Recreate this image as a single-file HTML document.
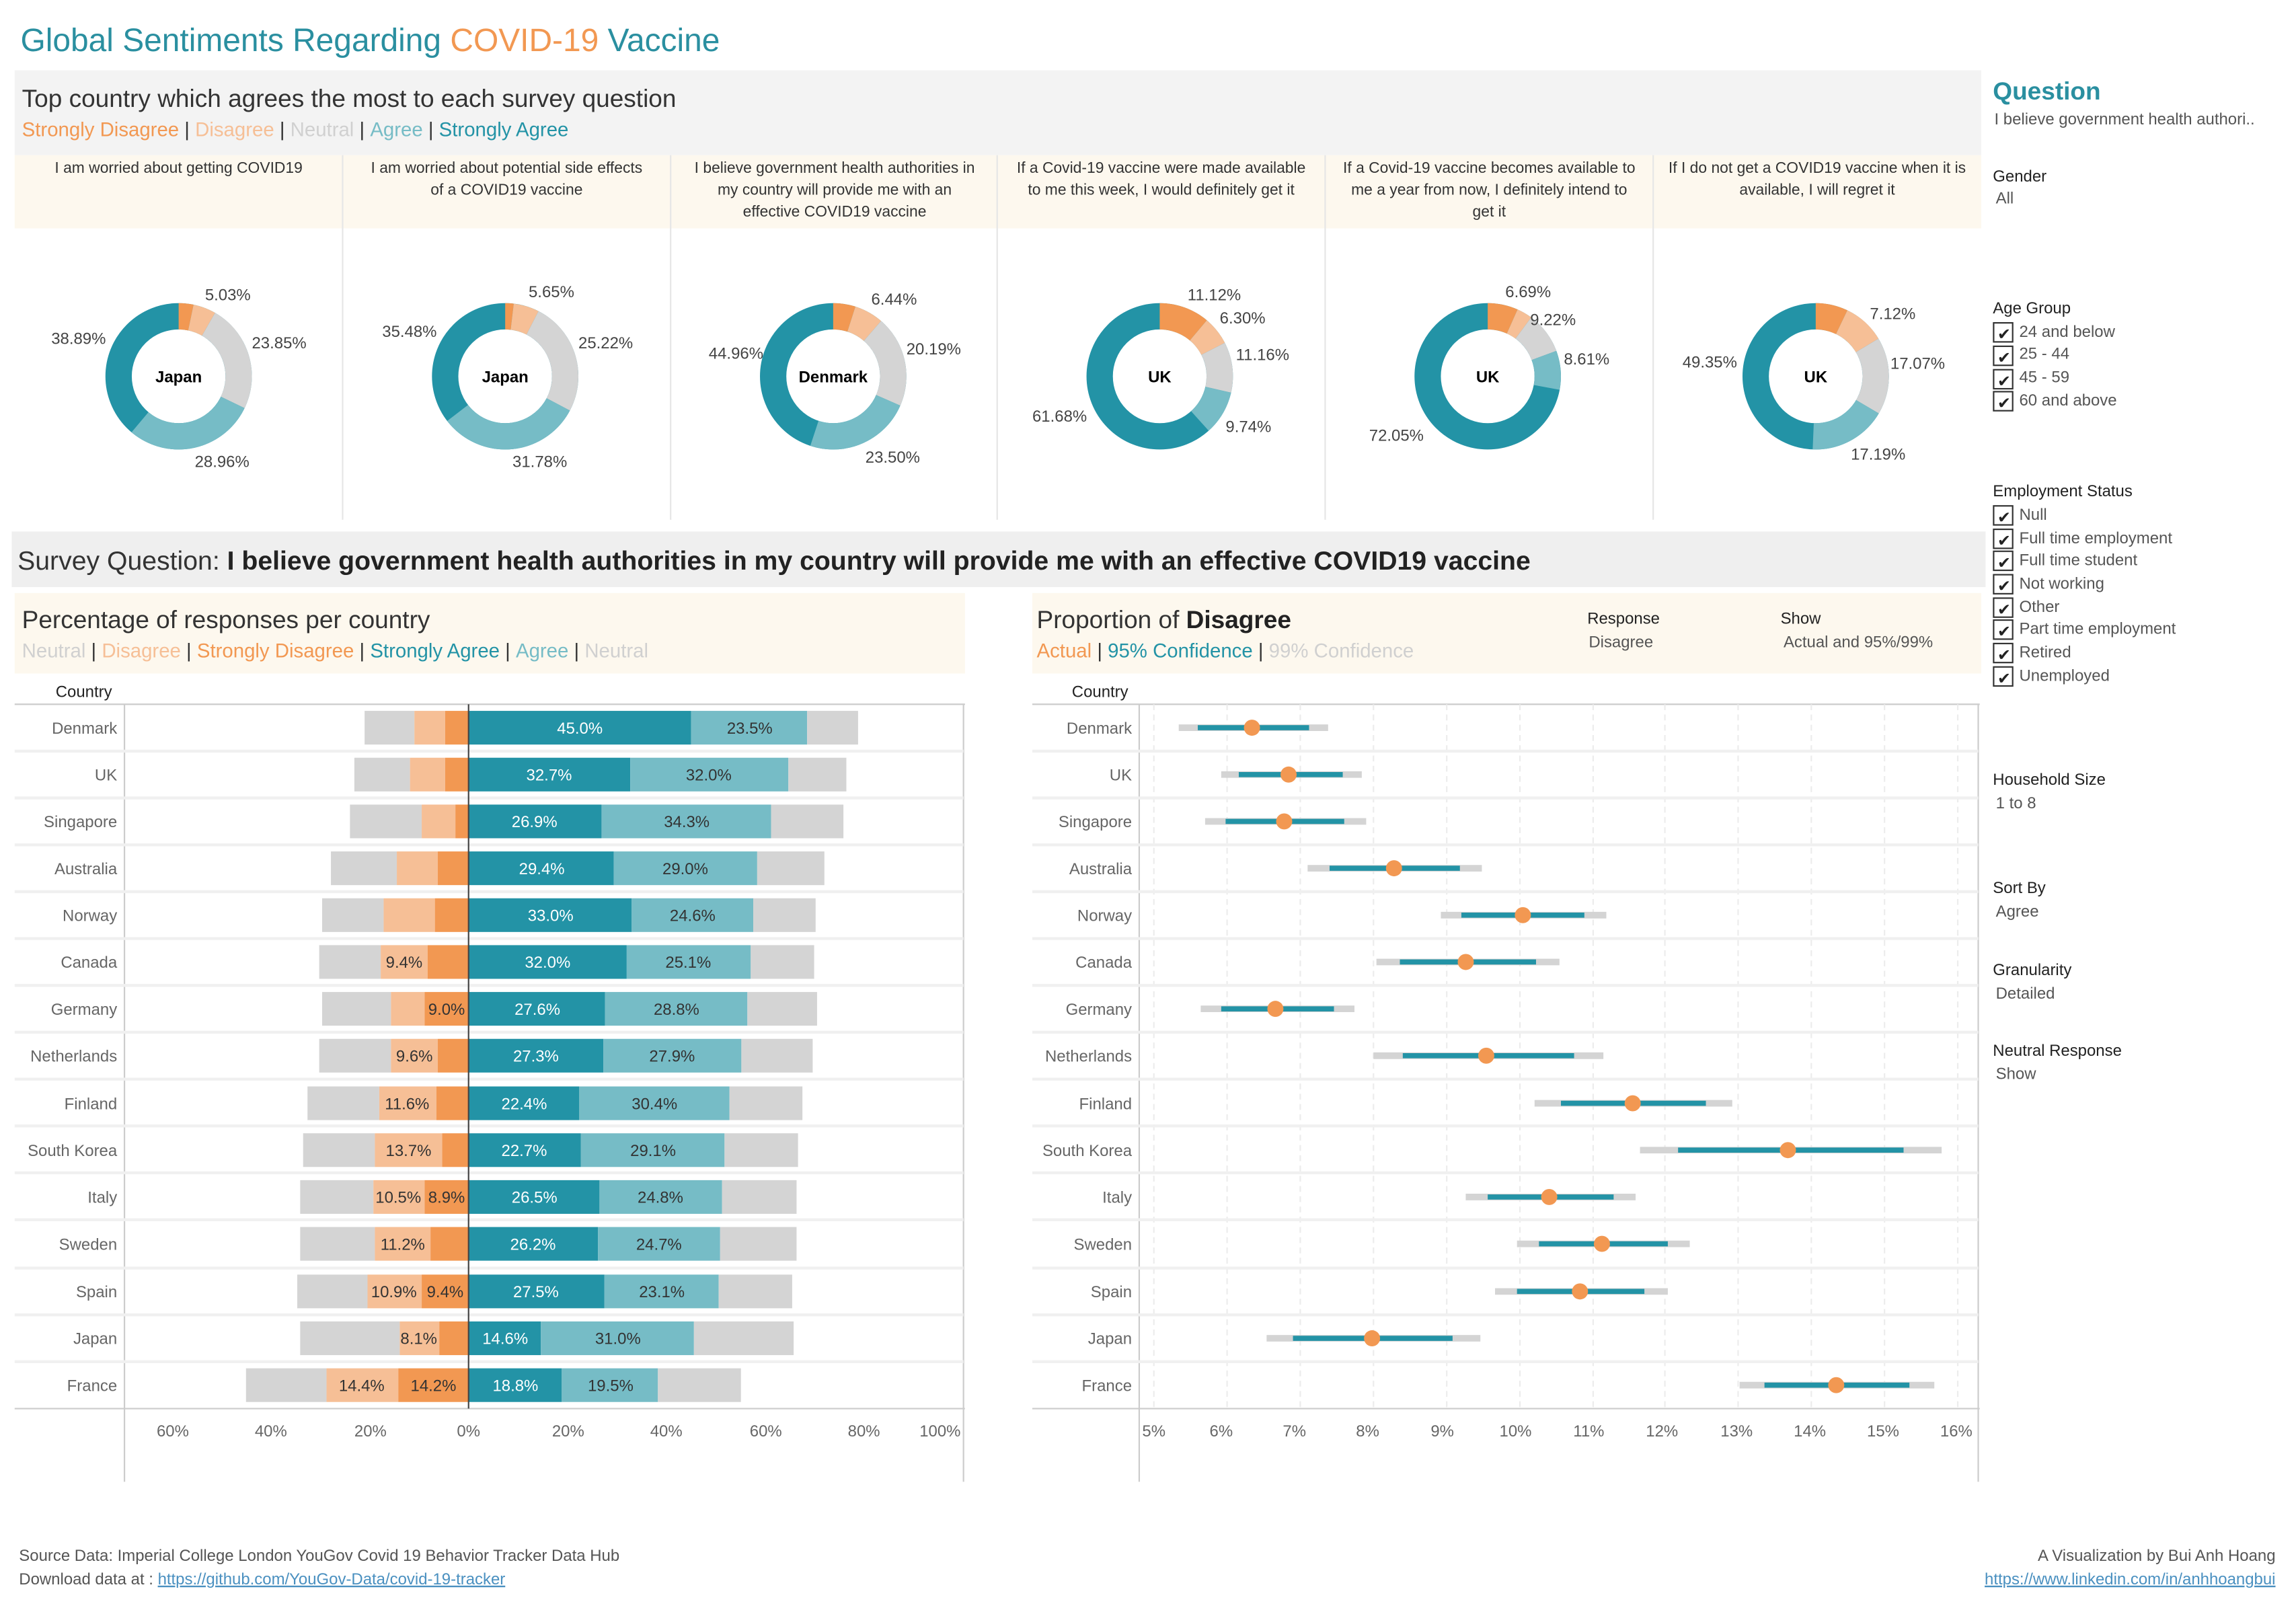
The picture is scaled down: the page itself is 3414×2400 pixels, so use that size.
<!DOCTYPE html>
<html><head><meta charset="utf-8"><style>
html,body{margin:0;padding:0;background:#fff;}
svg{display:block;}
text{font-family:"Liberation Sans",sans-serif;}
</style></head><body>
<svg width="3414" height="2400" viewBox="0 0 1568 1102.3" preserveAspectRatio="none" xmlns="http://www.w3.org/2000/svg">
<rect width="1568" height="1103" fill="#fff"/>
<!-- Title -->
<text x="14" y="35" font-size="22" fill="#2a8fa0">Global Sentiments Regarding <tspan fill="#f29852">COVID-19</tspan> Vaccine</text>

<!-- Top panel -->
<rect x="10" y="48" width="1343" height="58" fill="#f3f3f3"/>
<text x="15" y="73" font-size="17" fill="#333">Top country which agrees the most to each survey question</text>
<text x="15" y="93" font-size="13.5"><tspan fill="#f29852">Strongly Disagree</tspan><tspan fill="#333"> | </tspan><tspan fill="#f6bf96">Disagree</tspan><tspan fill="#333"> | </tspan><tspan fill="#d0d0d0">Neutral</tspan><tspan fill="#333"> | </tspan><tspan fill="#76bcc6">Agree</tspan><tspan fill="#333"> | </tspan><tspan fill="#2393a6">Strongly Agree</tspan></text>
<rect x="10" y="106" width="1343" height="50" fill="#fdf8ee"/>
<g stroke="#e6e6e6" stroke-width="1">
<line x1="234" y1="106" x2="234" y2="355"/><line x1="458" y1="106" x2="458" y2="355"/><line x1="681" y1="106" x2="681" y2="355"/><line x1="905" y1="106" x2="905" y2="355"/><line x1="1129" y1="106" x2="1129" y2="355"/>
</g>
<g font-size="10.5" fill="#333" text-anchor="middle">
<text x="122" y="118">I am worried about getting COVID19</text>
<text x="346" y="118">I am worried about potential side effects</text><text x="346" y="133">of a COVID19 vaccine</text>
<text x="570" y="118">I believe government health authorities in</text><text x="570" y="133">my country will provide me with an</text><text x="570" y="148">effective COVID19 vaccine</text>
<text x="793" y="118">If a Covid-19 vaccine were made available</text><text x="793" y="133">to me this week, I would definitely get it</text>
<text x="1017" y="118">If a Covid-19 vaccine becomes available to</text><text x="1017" y="133">me a year from now, I definitely intend to</text><text x="1017" y="148">get it</text>
<text x="1241" y="118">If I do not get a COVID19 vaccine when it is</text><text x="1241" y="133">available, I will regret it</text>
</g>

<g fill="none" stroke-width="18">
<g transform="translate(122,257) rotate(-90)">
<circle r="41" stroke="#2393a6"/>
<circle r="41" stroke="#f29852" stroke-dasharray="8.42 300"/>
<circle r="41" stroke="#f6bf96" stroke-dasharray="12.96 300" stroke-dashoffset="-8.42"/>
<circle r="41" stroke="#d4d4d4" stroke-dasharray="61.44 300" stroke-dashoffset="-21.38"/>
<circle r="41" stroke="#76bcc6" stroke-dasharray="74.6 300" stroke-dashoffset="-82.82"/>
</g>
<g transform="translate(345,257) rotate(-90)">
<circle r="41" stroke="#2393a6"/>
<circle r="41" stroke="#f29852" stroke-dasharray="4.82 300"/>
<circle r="41" stroke="#f6bf96" stroke-dasharray="14.55 300" stroke-dashoffset="-4.82"/>
<circle r="41" stroke="#d4d4d4" stroke-dasharray="64.97 300" stroke-dashoffset="-19.37"/>
<circle r="41" stroke="#76bcc6" stroke-dasharray="81.87 300" stroke-dashoffset="-84.34"/>
</g>
<g transform="translate(569,257) rotate(-90)">
<circle r="41" stroke="#2393a6"/>
<circle r="41" stroke="#f29852" stroke-dasharray="12.65 300"/>
<circle r="41" stroke="#f6bf96" stroke-dasharray="16.59 300" stroke-dashoffset="-12.65"/>
<circle r="41" stroke="#d4d4d4" stroke-dasharray="52.01 300" stroke-dashoffset="-29.24"/>
<circle r="41" stroke="#76bcc6" stroke-dasharray="60.54 300" stroke-dashoffset="-81.25"/>
</g>
<g transform="translate(792,257) rotate(-90)">
<circle r="41" stroke="#2393a6"/>
<circle r="41" stroke="#f29852" stroke-dasharray="28.65 300"/>
<circle r="41" stroke="#f6bf96" stroke-dasharray="16.23 300" stroke-dashoffset="-28.65"/>
<circle r="41" stroke="#d4d4d4" stroke-dasharray="28.75 300" stroke-dashoffset="-44.88"/>
<circle r="41" stroke="#76bcc6" stroke-dasharray="25.09 300" stroke-dashoffset="-73.63"/>
</g>
<g transform="translate(1016,257) rotate(-90)">
<circle r="41" stroke="#2393a6"/>
<circle r="41" stroke="#f29852" stroke-dasharray="17.23 300"/>
<circle r="41" stroke="#f6bf96" stroke-dasharray="8.84 300" stroke-dashoffset="-17.23"/>
<circle r="41" stroke="#d4d4d4" stroke-dasharray="23.75 300" stroke-dashoffset="-26.07"/>
<circle r="41" stroke="#76bcc6" stroke-dasharray="22.18 300" stroke-dashoffset="-49.82"/>
</g>
<g transform="translate(1240,257) rotate(-90)">
<circle r="41" stroke="#2393a6"/>
<circle r="41" stroke="#f29852" stroke-dasharray="18.34 300"/>
<circle r="41" stroke="#f6bf96" stroke-dasharray="23.88 300" stroke-dashoffset="-18.34"/>
<circle r="41" stroke="#d4d4d4" stroke-dasharray="43.97 300" stroke-dashoffset="-42.22"/>
<circle r="41" stroke="#76bcc6" stroke-dasharray="44.28 300" stroke-dashoffset="-86.19"/>
</g>
</g>
<g font-size="11" fill="#000" text-anchor="middle" font-weight="bold">
<text x="122" y="261">Japan</text><text x="345" y="261">Japan</text><text x="569" y="261">Denmark</text><text x="792" y="261">UK</text><text x="1016" y="261">UK</text><text x="1240" y="261">UK</text>
</g>
<g font-size="11" fill="#444">
<text x="140" y="205">5.03%</text><text x="172" y="238">23.85%</text><text x="133" y="319">28.96%</text><text x="35" y="235">38.89%</text>
<text x="361" y="203">5.65%</text><text x="395" y="238">25.22%</text><text x="350" y="319">31.78%</text><text x="261" y="230">35.48%</text>
<text x="595" y="208">6.44%</text><text x="619" y="242">20.19%</text><text x="591" y="316">23.50%</text><text x="484" y="245">44.96%</text>
<text x="811" y="205">11.12%</text><text x="833" y="221">6.30%</text><text x="844" y="246">11.16%</text><text x="837" y="295">9.74%</text><text x="705" y="288">61.68%</text>
<text x="1028" y="203">6.69%</text><text x="1045" y="222">9.22%</text><text x="1068" y="249">8.61%</text><text x="935" y="301">72.05%</text>
<text x="1277" y="218">7.12%</text><text x="1291" y="252">17.07%</text><text x="1264" y="314">17.19%</text><text x="1149" y="251">49.35%</text>
</g>

<rect x="8" y="363" width="1348" height="38" fill="#efefef"/>
<text x="12" y="389" font-size="18" fill="#333">Survey Question: <tspan font-weight="bold" fill="#222">I believe government health authorities in my country will provide me with an effective COVID19 vaccine</tspan></text>

<rect x="10" y="405" width="649" height="55" fill="#fdf8ee"/>
<text x="15" y="429" font-size="17" fill="#333">Percentage of responses per country</text>
<text x="15" y="449" font-size="13.5"><tspan fill="#d0d0d0">Neutral</tspan><tspan fill="#333"> | </tspan><tspan fill="#f6bf96">Disagree</tspan><tspan fill="#333"> | </tspan><tspan fill="#f29852">Strongly Disagree</tspan><tspan fill="#333"> | </tspan><tspan fill="#2393a6">Strongly Agree</tspan><tspan fill="#333"> | </tspan><tspan fill="#76bcc6">Agree</tspan><tspan fill="#333"> | </tspan><tspan fill="#d0d0d0">Neutral</tspan></text>
<text x="38" y="476" font-size="11" fill="#222">Country</text>
<line x1="10" y1="481" x2="659" y2="481" stroke="#ccc"/>
<line x1="85" y1="481" x2="85" y2="1012" stroke="#ccc"/>
<line x1="658" y1="481" x2="658" y2="1012" stroke="#ccc"/>
<line x1="10" y1="962" x2="659" y2="962" stroke="#ccc"/>
<g stroke="#f0f0f0" stroke-width="2">
<line x1="10" y1="513" x2="658" y2="513"/><line x1="10" y1="545" x2="658" y2="545"/><line x1="10" y1="577" x2="658" y2="577"/><line x1="10" y1="609" x2="658" y2="609"/><line x1="10" y1="641" x2="658" y2="641"/><line x1="10" y1="673" x2="658" y2="673"/><line x1="10" y1="705" x2="658" y2="705"/><line x1="10" y1="737" x2="658" y2="737"/><line x1="10" y1="769" x2="658" y2="769"/><line x1="10" y1="801" x2="658" y2="801"/><line x1="10" y1="833" x2="658" y2="833"/><line x1="10" y1="866" x2="658" y2="866"/><line x1="10" y1="898" x2="658" y2="898"/><line x1="10" y1="930" x2="658" y2="930"/>
</g>

<g>
<g transform="translate(0,485.5)"><rect x="249" width="34" height="23" fill="#d4d4d4"/><rect x="283" width="21" height="23" fill="#f6bf96"/><rect x="304" width="16" height="23" fill="#f29852"/><rect x="320" width="151.9" height="23" fill="#2393a6"/><rect x="471.9" width="79.3" height="23" fill="#76bcc6"/><rect x="551.2" width="34.8" height="23" fill="#d4d4d4"/></g>
<g transform="translate(0,517.5)"><rect x="242" width="38" height="23" fill="#d4d4d4"/><rect x="280" width="24" height="23" fill="#f6bf96"/><rect x="304" width="16" height="23" fill="#f29852"/><rect x="320" width="110.4" height="23" fill="#2393a6"/><rect x="430.4" width="108" height="23" fill="#76bcc6"/><rect x="538.4" width="39.6" height="23" fill="#d4d4d4"/></g>
<g transform="translate(0,549.5)"><rect x="239" width="49" height="23" fill="#d4d4d4"/><rect x="288" width="23" height="23" fill="#f6bf96"/><rect x="311" width="9" height="23" fill="#f29852"/><rect x="320" width="90.8" height="23" fill="#2393a6"/><rect x="410.8" width="115.8" height="23" fill="#76bcc6"/><rect x="526.6" width="49.4" height="23" fill="#d4d4d4"/></g>
<g transform="translate(0,581.5)"><rect x="226" width="45" height="23" fill="#d4d4d4"/><rect x="271" width="28" height="23" fill="#f6bf96"/><rect x="299" width="21" height="23" fill="#f29852"/><rect x="320" width="99.2" height="23" fill="#2393a6"/><rect x="419.2" width="97.9" height="23" fill="#76bcc6"/><rect x="517.1" width="45.9" height="23" fill="#d4d4d4"/></g>
<g transform="translate(0,613.5)"><rect x="220" width="42" height="23" fill="#d4d4d4"/><rect x="262" width="35" height="23" fill="#f6bf96"/><rect x="297" width="23" height="23" fill="#f29852"/><rect x="320" width="111.4" height="23" fill="#2393a6"/><rect x="431.4" width="83" height="23" fill="#76bcc6"/><rect x="514.4" width="42.6" height="23" fill="#d4d4d4"/></g>
<g transform="translate(0,645.5)"><rect x="218" width="42" height="23" fill="#d4d4d4"/><rect x="260" width="32" height="23" fill="#f6bf96"/><rect x="292" width="28" height="23" fill="#f29852"/><rect x="320" width="108" height="23" fill="#2393a6"/><rect x="428" width="84.7" height="23" fill="#76bcc6"/><rect x="512.7" width="43.3" height="23" fill="#d4d4d4"/></g>
<g transform="translate(0,677.5)"><rect x="220" width="47" height="23" fill="#d4d4d4"/><rect x="267" width="23" height="23" fill="#f6bf96"/><rect x="290" width="30" height="23" fill="#f29852"/><rect x="320" width="93.2" height="23" fill="#2393a6"/><rect x="413.2" width="97.2" height="23" fill="#76bcc6"/><rect x="510.4" width="47.6" height="23" fill="#d4d4d4"/></g>
<g transform="translate(0,709.5)"><rect x="218" width="49" height="23" fill="#d4d4d4"/><rect x="267" width="32" height="23" fill="#f6bf96"/><rect x="299" width="21" height="23" fill="#f29852"/><rect x="320" width="92.1" height="23" fill="#2393a6"/><rect x="412.1" width="94.2" height="23" fill="#76bcc6"/><rect x="506.3" width="48.7" height="23" fill="#d4d4d4"/></g>
<g transform="translate(0,742)"><rect x="210" width="49" height="23" fill="#d4d4d4"/><rect x="259" width="39" height="23" fill="#f6bf96"/><rect x="298" width="22" height="23" fill="#f29852"/><rect x="320" width="75.6" height="23" fill="#2393a6"/><rect x="395.6" width="102.6" height="23" fill="#76bcc6"/><rect x="498.2" width="49.8" height="23" fill="#d4d4d4"/></g>
<g transform="translate(0,774)"><rect x="207" width="49" height="23" fill="#d4d4d4"/><rect x="256" width="46" height="23" fill="#f6bf96"/><rect x="302" width="18" height="23" fill="#f29852"/><rect x="320" width="76.6" height="23" fill="#2393a6"/><rect x="396.6" width="98.2" height="23" fill="#76bcc6"/><rect x="494.8" width="50.2" height="23" fill="#d4d4d4"/></g>
<g transform="translate(0,806)"><rect x="205" width="50" height="23" fill="#d4d4d4"/><rect x="255" width="35" height="23" fill="#f6bf96"/><rect x="290" width="30" height="23" fill="#f29852"/><rect x="320" width="89.4" height="23" fill="#2393a6"/><rect x="409.4" width="83.7" height="23" fill="#76bcc6"/><rect x="493.1" width="50.9" height="23" fill="#d4d4d4"/></g>
<g transform="translate(0,838)"><rect x="205" width="51" height="23" fill="#d4d4d4"/><rect x="256" width="38" height="23" fill="#f6bf96"/><rect x="294" width="26" height="23" fill="#f29852"/><rect x="320" width="88.4" height="23" fill="#2393a6"/><rect x="408.4" width="83.4" height="23" fill="#76bcc6"/><rect x="491.8" width="52.2" height="23" fill="#d4d4d4"/></g>
<g transform="translate(0,870.5)"><rect x="203" width="48" height="23" fill="#d4d4d4"/><rect x="251" width="37" height="23" fill="#f6bf96"/><rect x="288" width="32" height="23" fill="#f29852"/><rect x="320" width="92.8" height="23" fill="#2393a6"/><rect x="412.8" width="78" height="23" fill="#76bcc6"/><rect x="490.8" width="50.2" height="23" fill="#d4d4d4"/></g>
<g transform="translate(0,902.5)"><rect x="205" width="68" height="23" fill="#d4d4d4"/><rect x="273" width="27" height="23" fill="#f6bf96"/><rect x="300" width="20" height="23" fill="#f29852"/><rect x="320" width="49.3" height="23" fill="#2393a6"/><rect x="369.3" width="104.6" height="23" fill="#76bcc6"/><rect x="473.9" width="68.1" height="23" fill="#d4d4d4"/></g>
<g transform="translate(0,934.5)"><rect x="168" width="55" height="23" fill="#d4d4d4"/><rect x="223" width="49" height="23" fill="#f6bf96"/><rect x="272" width="48" height="23" fill="#f29852"/><rect x="320" width="63.5" height="23" fill="#2393a6"/><rect x="383.5" width="65.8" height="23" fill="#76bcc6"/><rect x="449.3" width="56.7" height="23" fill="#d4d4d4"/></g>
</g>
<line x1="320" y1="481" x2="320" y2="962" stroke="#444" stroke-width="1"/>
<g font-size="11" text-anchor="middle">
<g fill="#fff">
<text x="396" y="501">45.0%</text><text x="375" y="533">32.7%</text><text x="365" y="565">26.9%</text><text x="370" y="597">29.4%</text><text x="376" y="629">33.0%</text><text x="374" y="661">32.0%</text><text x="367" y="693">27.6%</text><text x="366" y="725">27.3%</text><text x="358" y="757.5">22.4%</text><text x="358" y="789.5">22.7%</text><text x="365" y="821.5">26.5%</text><text x="364" y="853.5">26.2%</text><text x="366" y="886">27.5%</text><text x="345" y="918">14.6%</text><text x="352" y="950">18.8%</text>
</g>
<g fill="#333">
<text x="512" y="501">23.5%</text><text x="484" y="533">32.0%</text><text x="469" y="565">34.3%</text><text x="468" y="597">29.0%</text><text x="473" y="629">24.6%</text><text x="470" y="661">25.1%</text><text x="462" y="693">28.8%</text><text x="459" y="725">27.9%</text><text x="447" y="757.5">30.4%</text><text x="446" y="789.5">29.1%</text><text x="451" y="821.5">24.8%</text><text x="450" y="853.5">24.7%</text><text x="452" y="886">23.1%</text><text x="422" y="918">31.0%</text><text x="417" y="950">19.5%</text>
<text x="276" y="661">9.4%</text><text x="305" y="693">9.0%</text><text x="283" y="725">9.6%</text><text x="278" y="757.5">11.6%</text><text x="279" y="789.5">13.7%</text><text x="272" y="821.5">10.5%</text><text x="305" y="821.5">8.9%</text><text x="275" y="853.5">11.2%</text><text x="269" y="886">10.9%</text><text x="304" y="886">9.4%</text><text x="286" y="918">8.1%</text><text x="247" y="950">14.4%</text><text x="296" y="950">14.2%</text>
</g>
</g>
<g font-size="11" fill="#666" text-anchor="end">
<text x="80" y="501">Denmark</text><text x="80" y="533">UK</text><text x="80" y="565">Singapore</text><text x="80" y="597">Australia</text><text x="80" y="629">Norway</text><text x="80" y="661">Canada</text><text x="80" y="693">Germany</text><text x="80" y="725">Netherlands</text><text x="80" y="757.5">Finland</text><text x="80" y="789.5">South Korea</text><text x="80" y="821.5">Italy</text><text x="80" y="853.5">Sweden</text><text x="80" y="886">Spain</text><text x="80" y="918">Japan</text><text x="80" y="950">France</text>
</g>
<g font-size="11" fill="#666" text-anchor="middle">
<text x="118" y="981">60%</text><text x="185" y="981">40%</text><text x="253" y="981">20%</text><text x="320" y="981">0%</text><text x="388" y="981">20%</text><text x="455" y="981">40%</text><text x="523" y="981">60%</text><text x="590" y="981">80%</text><text x="642" y="981">100%</text>
</g>

<rect x="705" y="405" width="648" height="55" fill="#fdf8ee"/>
<text x="708" y="429" font-size="17" fill="#333">Proportion of <tspan font-weight="bold" fill="#222">Disagree</tspan></text>
<text x="708" y="449" font-size="13.5"><tspan fill="#f29852">Actual</tspan><tspan fill="#333"> | </tspan><tspan fill="#2393a6">95% Confidence</tspan><tspan fill="#333"> | </tspan><tspan fill="#d0d0d0">99% Confidence</tspan></text>
<text x="1084" y="426" font-size="11" fill="#222">Response</text>
<text x="1085" y="442" font-size="11" fill="#555">Disagree</text>
<text x="1216" y="426" font-size="11" fill="#222">Show</text>
<text x="1218" y="442" font-size="11" fill="#555">Actual and 95%/99%</text>
<text x="732" y="476" font-size="11" fill="#222">Country</text>
<line x1="705" y1="481" x2="1352" y2="481" stroke="#ccc"/>
<line x1="778" y1="481" x2="778" y2="1012" stroke="#ccc"/>
<line x1="1351" y1="481" x2="1351" y2="1012" stroke="#ccc"/>
<line x1="705" y1="962" x2="1352" y2="962" stroke="#ccc"/>
<g stroke="#ececec" stroke-dasharray="4 3">
<line x1="788" y1="481" x2="788" y2="962"/><line x1="838" y1="481" x2="838" y2="962"/><line x1="888" y1="481" x2="888" y2="962"/><line x1="938" y1="481" x2="938" y2="962"/><line x1="988" y1="481" x2="988" y2="962"/><line x1="1038" y1="481" x2="1038" y2="962"/><line x1="1088" y1="481" x2="1088" y2="962"/><line x1="1137" y1="481" x2="1137" y2="962"/><line x1="1187" y1="481" x2="1187" y2="962"/><line x1="1237" y1="481" x2="1237" y2="962"/><line x1="1287" y1="481" x2="1287" y2="962"/><line x1="1337" y1="481" x2="1337" y2="962"/>
</g>
<g stroke="#f0f0f0" stroke-width="2">
<line x1="705" y1="513" x2="1351" y2="513"/><line x1="705" y1="545" x2="1351" y2="545"/><line x1="705" y1="577" x2="1351" y2="577"/><line x1="705" y1="609" x2="1351" y2="609"/><line x1="705" y1="641" x2="1351" y2="641"/><line x1="705" y1="673" x2="1351" y2="673"/><line x1="705" y1="705" x2="1351" y2="705"/><line x1="705" y1="737" x2="1351" y2="737"/><line x1="705" y1="769" x2="1351" y2="769"/><line x1="705" y1="801" x2="1351" y2="801"/><line x1="705" y1="833" x2="1351" y2="833"/><line x1="705" y1="866" x2="1351" y2="866"/><line x1="705" y1="898" x2="1351" y2="898"/><line x1="705" y1="930" x2="1351" y2="930"/>
</g>
<g stroke="#d4d4d4" stroke-width="4.5">
<line x1="805" y1="497" x2="907" y2="497"/><line x1="834" y1="529" x2="930" y2="529"/><line x1="823" y1="561" x2="933" y2="561"/><line x1="893" y1="593" x2="1012" y2="593"/><line x1="984" y1="625" x2="1097" y2="625"/><line x1="940" y1="657" x2="1065" y2="657"/><line x1="820" y1="689" x2="925" y2="689"/><line x1="938" y1="721" x2="1095" y2="721"/><line x1="1048" y1="753.5" x2="1183" y2="753.5"/><line x1="1120" y1="785.5" x2="1326" y2="785.5"/><line x1="1001" y1="817.5" x2="1117" y2="817.5"/><line x1="1036" y1="849.5" x2="1154" y2="849.5"/><line x1="1021" y1="882" x2="1139" y2="882"/><line x1="865" y1="914" x2="1011" y2="914"/><line x1="1188" y1="946" x2="1321" y2="946"/>
</g>
<g stroke="#2393a6" stroke-width="3.5">
<line x1="818" y1="497" x2="894" y2="497"/><line x1="846" y1="529" x2="917" y2="529"/><line x1="837" y1="561" x2="918" y2="561"/><line x1="908" y1="593" x2="997" y2="593"/><line x1="998" y1="625" x2="1082" y2="625"/><line x1="956" y1="657" x2="1049" y2="657"/><line x1="834" y1="689" x2="911" y2="689"/><line x1="958" y1="721" x2="1075" y2="721"/><line x1="1066" y1="753.5" x2="1165" y2="753.5"/><line x1="1146" y1="785.5" x2="1300" y2="785.5"/><line x1="1016" y1="817.5" x2="1102" y2="817.5"/><line x1="1051" y1="849.5" x2="1139" y2="849.5"/><line x1="1036" y1="882" x2="1123" y2="882"/><line x1="883" y1="914" x2="992" y2="914"/><line x1="1205" y1="946" x2="1304" y2="946"/>
</g>
<g fill="#f29852">
<circle cx="855" cy="497" r="5.5"/><circle cx="880" cy="529" r="5.5"/><circle cx="877" cy="561" r="5.5"/><circle cx="952" cy="593" r="5.5"/><circle cx="1040" cy="625" r="5.5"/><circle cx="1001" cy="657" r="5.5"/><circle cx="871" cy="689" r="5.5"/><circle cx="1015" cy="721" r="5.5"/><circle cx="1115" cy="753.5" r="5.5"/><circle cx="1221" cy="785.5" r="5.5"/><circle cx="1058" cy="817.5" r="5.5"/><circle cx="1094" cy="849.5" r="5.5"/><circle cx="1079" cy="882" r="5.5"/><circle cx="937" cy="914" r="5.5"/><circle cx="1254" cy="946" r="5.5"/>
</g>
<g font-size="11" fill="#666" text-anchor="end">
<text x="773" y="501">Denmark</text><text x="773" y="533">UK</text><text x="773" y="565">Singapore</text><text x="773" y="597">Australia</text><text x="773" y="629">Norway</text><text x="773" y="661">Canada</text><text x="773" y="693">Germany</text><text x="773" y="725">Netherlands</text><text x="773" y="757.5">Finland</text><text x="773" y="789.5">South Korea</text><text x="773" y="821.5">Italy</text><text x="773" y="853.5">Sweden</text><text x="773" y="886">Spain</text><text x="773" y="918">Japan</text><text x="773" y="950">France</text>
</g>
<g font-size="11" fill="#666" text-anchor="middle">
<text x="788" y="981">5%</text><text x="834" y="981">6%</text><text x="884" y="981">7%</text><text x="934" y="981">8%</text><text x="985" y="981">9%</text><text x="1035" y="981">10%</text><text x="1085" y="981">11%</text><text x="1135" y="981">12%</text><text x="1186" y="981">13%</text><text x="1236" y="981">14%</text><text x="1286" y="981">15%</text><text x="1336" y="981">16%</text>
</g>

<text x="1361" y="68" font-size="17" font-weight="bold" fill="#2a8fa0">Question</text>
<text x="1362" y="85" font-size="11" fill="#555">I believe government health authori..</text>
<text x="1361" y="124" font-size="11" fill="#222">Gender</text>
<text x="1363" y="139" font-size="11" fill="#555">All</text>
<text x="1361" y="214" font-size="11" fill="#222">Age Group</text>
<g font-size="11" fill="#555">
<g fill="#fff" stroke="#333" stroke-width="1"><rect x="1361.5" y="220.5" width="13" height="13"/><rect x="1361.5" y="236.5" width="13" height="13"/><rect x="1361.5" y="252.5" width="13" height="13"/><rect x="1361.5" y="267.5" width="13" height="13"/></g>
<text x="1364" y="232" fill="#222" font-size="11">✔</text><text x="1364" y="248" fill="#222" font-size="11">✔</text><text x="1364" y="264" fill="#222" font-size="11">✔</text><text x="1364" y="279" fill="#222" font-size="11">✔</text>
<text x="1379" y="230">24 and below</text><text x="1379" y="245">25 - 44</text><text x="1379" y="261">45 - 59</text><text x="1379" y="277">60 and above</text>
</g>
<text x="1361" y="339" font-size="11" fill="#222">Employment Status</text>
<g font-size="11" fill="#555">
<g fill="#fff" stroke="#333" stroke-width="1"><rect x="1361.5" y="345.5" width="13" height="13"/><rect x="1361.5" y="361.5" width="13" height="13"/><rect x="1361.5" y="376.5" width="13" height="13"/><rect x="1361.5" y="392.5" width="13" height="13"/><rect x="1361.5" y="408.5" width="13" height="13"/><rect x="1361.5" y="423.5" width="13" height="13"/><rect x="1361.5" y="439.5" width="13" height="13"/><rect x="1361.5" y="455.5" width="13" height="13"/></g>
<g fill="#222"><text x="1364" y="357">✔</text><text x="1364" y="373">✔</text><text x="1364" y="388">✔</text><text x="1364" y="404">✔</text><text x="1364" y="420">✔</text><text x="1364" y="435">✔</text><text x="1364" y="451">✔</text><text x="1364" y="467">✔</text></g>
<text x="1379" y="355">Null</text><text x="1379" y="371">Full time employment</text><text x="1379" y="386">Full time student</text><text x="1379" y="402">Not working</text><text x="1379" y="418">Other</text><text x="1379" y="433">Part time employment</text><text x="1379" y="449">Retired</text><text x="1379" y="465">Unemployed</text>
</g>
<g font-size="11">
<text x="1361" y="536" fill="#222">Household Size</text><text x="1363" y="552" fill="#555">1 to 8</text>
<text x="1361" y="610" fill="#222">Sort By</text><text x="1363" y="626" fill="#555">Agree</text>
<text x="1361" y="666" fill="#222">Granularity</text><text x="1363" y="682" fill="#555">Detailed</text>
<text x="1361" y="721" fill="#222">Neutral Response</text><text x="1363" y="737" fill="#555">Show</text>
</g>

<g font-size="11" fill="#555">
<text x="13" y="1066">Source Data: Imperial College London YouGov Covid 19 Behavior Tracker Data Hub</text>
<text x="13" y="1082">Download data at : <tspan fill="#4a90c0" text-decoration="underline">https://github.com/YouGov-Data/covid-19-tracker</tspan></text>
<text x="1554" y="1066" text-anchor="end">A Visualization by Bui Anh Hoang</text>
<text x="1554" y="1082" text-anchor="end" fill="#4a90c0" text-decoration="underline">https://www.linkedin.com/in/anhhoangbui</text>
</g>
</svg>
</body></html>
